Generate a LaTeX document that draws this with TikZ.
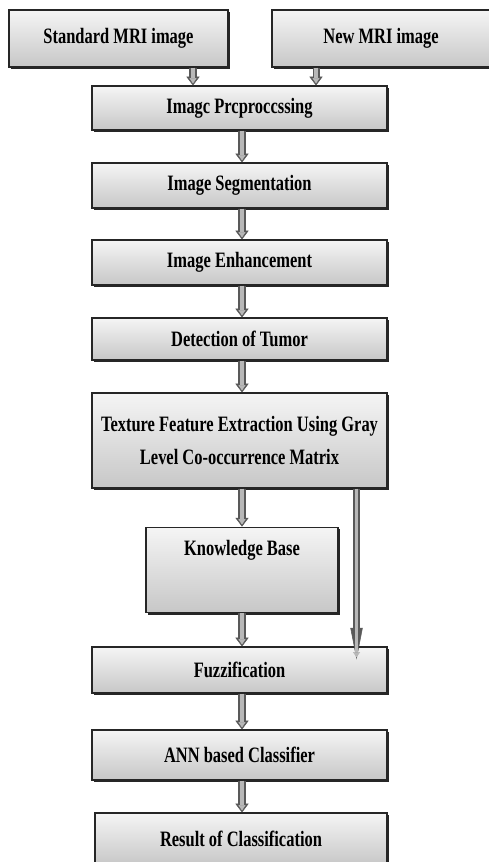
\documentclass[tikz,border=0pt]{standalone}
\usepackage{fontspec}
\setmainfont{Liberation Serif}[FakeStretch=0.75]
\usetikzlibrary{arrows.meta, shadows}
\tikzset{
    stepbox/.style={draw=black!85, line width=0.6pt, top color=black!4, bottom color=black!22, inner sep=0pt,
        drop shadow={shadow xshift=1.3pt, shadow yshift=-1.3pt, fill=black!85, opacity=1},
        font=\fontsize{12.5}{18.5}\selectfont\bfseries, align=center}, % box of one step
    flow/.style={line width=4pt, draw=black!65, -{Triangle[length=5pt,width=7.5pt,line width'=0.3pt]},
        postaction={draw=black!28, line width=2pt, -{Triangle[length=3pt,width=4pt,line width'=0.3pt]}, shorten >=1.2pt}} % hollow grey arrow
}
\begin{document}
\begin{tikzpicture}[x=0.02cm, y=-0.02cm]
            \useasboundingbox (0,0) rectangle (489,862);

            \node[stepbox, minimum width=219*0.02cm, minimum height=57*0.02cm] (std) at (118.5,38.5) {Standard MRI image};
            \node[stepbox, minimum width=218*0.02cm, minimum height=57*0.02cm] (new) at (381,38.5) {New MRI image};
            \node[stepbox, minimum width=295*0.02cm, minimum height=44*0.02cm] (pre) at (239.5,108) {Imagc Prcproccssing};
            \node[stepbox, minimum width=295*0.02cm, minimum height=45*0.02cm] (seg) at (239.5,185.5) {Image Segmentation};
            \node[stepbox, minimum width=295*0.02cm, minimum height=45*0.02cm] (enh) at (239.5,262.5) {Image Enhancement};
            \node[stepbox, minimum width=295*0.02cm, minimum height=42*0.02cm] (det) at (239.5,339) {Detection of Tumor};
            \node[stepbox, minimum width=295*0.02cm, minimum height=95*0.02cm] (tex) at (239.5,440.5) {Texture Feature Extraction Using Gray\\Level Co-occurrence Matrix};
            \node[stepbox, minimum width=192*0.02cm, text height=15.9pt, text depth=32.9pt] (kb) at (242,570) {Knowledge Base};
            \node[stepbox, minimum width=295*0.02cm, minimum height=46*0.02cm] (fuz) at (239.5,670) {Fuzzification};
            \node[stepbox, minimum width=295*0.02cm, minimum height=50*0.02cm] (ann) at (239.5,755) {ANN based Classifier};
            \node[stepbox, minimum width=292*0.02cm, minimum height=52*0.02cm] (res) at (241,839) {Result of Classification};

            \draw[flow] ([xshift=1.49cm]std.south) -- ([xshift=1.49cm]std.south |- pre.north);
            \draw[flow] ([xshift=-1.3cm]new.south) -- ([xshift=-1.3cm]new.south |- pre.north);
            \foreach \a/\b in {pre/seg, seg/enh, enh/det, det/tex, tex/kb, kb/fuz, fuz/ann, ann/res} {
                \draw[flow] (\a.south -| kb.north) -- (\b.north -| kb.north);
            }
            \draw[flow, -{Triangle[length=18pt,width=7pt,line width'=0.3pt]}, postaction={-{Triangle[length=15pt,width=3.5pt,line width'=0.3pt]}, shorten >=2pt}]
                ([xshift=-0.62cm]tex.south east) -- ([xshift=-0.62cm, yshift=-0.26cm]fuz.north east);
        \end{tikzpicture}
\end{document}
